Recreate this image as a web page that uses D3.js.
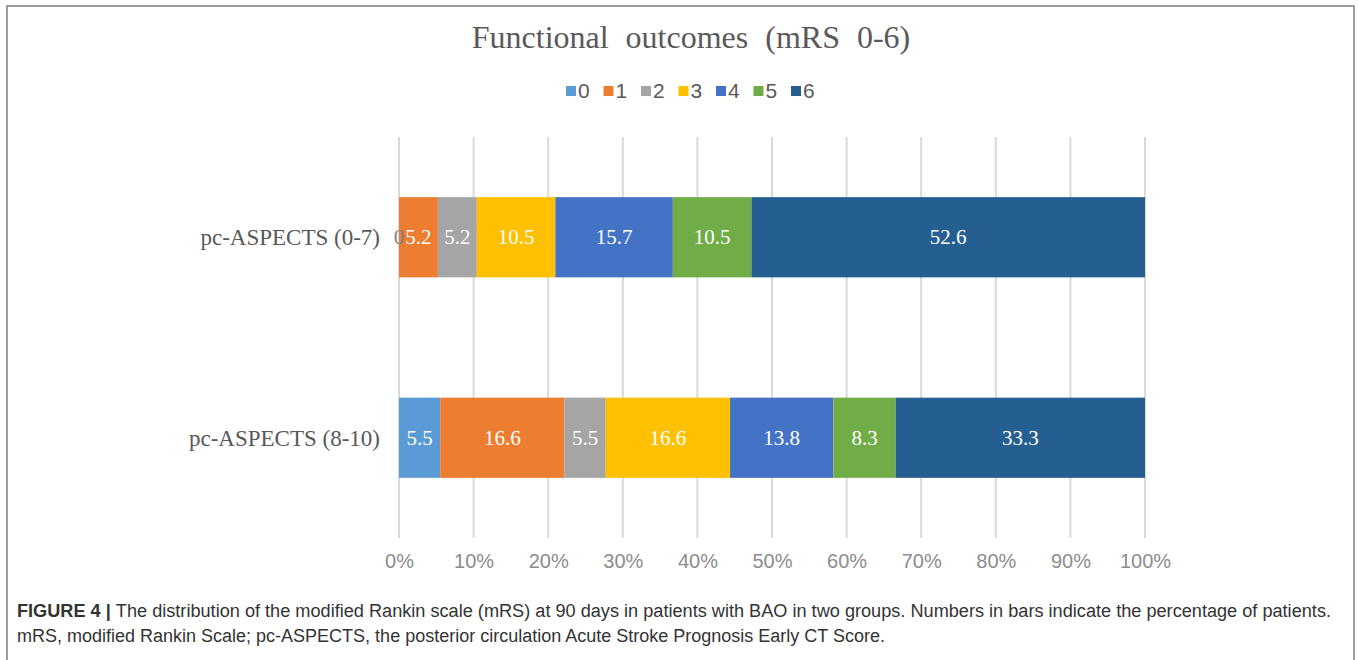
<!DOCTYPE html>
<html>
<head>
<meta charset="utf-8">
<script src="https://cdn.jsdelivr.net/npm/d3@7"></script>
<style>
  html, body { margin: 0; padding: 0; background: #fff; }
  svg { display: block; }
</style>
</head>
<body>
<svg id="chart" width="1358" height="660"></svg>
<script>
// mRS score levels (stack order, left to right)
const levels = ["0", "1", "2", "3", "4", "5", "6"];
// Patient groups, top to bottom
const groups = ["pc-ASPECTS (0-7)", "pc-ASPECTS (8-10)"];
// Percentage of patients per mRS level, one array per group
const valuesLow = [0, 5.2, 5.2, 10.5, 15.7, 10.5, 52.6];
const valuesHigh = [5.5, 16.6, 5.5, 16.6, 13.8, 8.3, 33.3];
// Percent axis ticks
const ticks = [0, 10, 20, 30, 40, 50, 60, 70, 80, 90, 100];
const colors = ["#5b9bd5", "#ed7d31", "#a5a5a5", "#ffc000", "#4472c4", "#70ad47", "#255e91"];

const svg = d3.select("#chart");

// outer frame
svg.append("rect").attr("x", 7).attr("y", 6).attr("width", 1347).attr("height", 660)
  .attr("fill", "none").attr("stroke", "#7f7f7f").attr("stroke-width", 1.5);

const plot = { left: 399, right: 1145, top: 137, bottom: 538 };

const x = d3.scaleLinear().domain([0, 100]).range([plot.left, plot.right]);
const y = d3.scaleBand().domain(groups).range([plot.top, plot.bottom]).paddingInner(0.6).paddingOuter(0.3);

// build rows for 100% stacked layout
const rows = groups.map((g, i) => {
  const vals = i === 0 ? valuesLow : valuesHigh;
  const row = { group: g };
  const total = d3.sum(vals);
  levels.forEach((l, j) => { row[l] = vals[j] / total * 100; row["raw" + l] = vals[j]; });
  return row;
});
const stack = d3.stack().keys(levels)(rows);

// title
svg.append("text").attr("x", 691).attr("y", 48).attr("text-anchor", "middle")
  .attr("font-family", "'Liberation Serif', 'Times New Roman', serif").attr("font-size", 32)
  .attr("word-spacing", 9).attr("fill", "#595959")
  .text("Functional outcomes (mRS 0-6)");

// legend
const legend = svg.append("g");
let lx = 566;
levels.forEach((l, i) => {
  const g = legend.append("g").attr("transform", `translate(${lx},0)`);
  g.append("rect").attr("x", 0).attr("y", 86).attr("width", 10).attr("height", 10).attr("fill", colors[i]);
  g.append("text").attr("x", 12).attr("y", 98)
    .attr("font-family", "'Liberation Sans Narrow', 'Liberation Sans', Arial, sans-serif").attr("font-size", 21)
    .attr("fill", "#595959").text(l);
  lx += 37.5;
});

// vertical gridlines
svg.append("g").selectAll("line").data(ticks).join("line")
  .attr("x1", d => x(d)).attr("x2", d => x(d))
  .attr("y1", plot.top).attr("y2", plot.bottom)
  .attr("stroke", "#d9d9d9").attr("stroke-width", 2);

// bars
const layers = svg.append("g").selectAll("g").data(stack).join("g")
  .attr("fill", (d, i) => colors[i]);
layers.selectAll("rect").data(d => d.map(s => ({ s, key: d.key }))).join("rect")
  .attr("x", d => x(d.s[0]))
  .attr("width", d => x(d.s[1]) - x(d.s[0]))
  .attr("y", d => y(d.s.data.group))
  .attr("height", y.bandwidth());

// value labels inside bars
const labels = [];
stack.forEach(layer => {
  layer.forEach(s => {
    labels.push({ cx: (x(s[0]) + x(s[1])) / 2, cy: y(s.data.group) + y.bandwidth() / 2, v: s.data["raw" + layer.key] });
  });
});
svg.append("g").selectAll("text").data(labels).join("text")
  .attr("x", d => d.cx).attr("y", d => d.cy + 7)
  .attr("text-anchor", "middle")
  .attr("font-family", "'Liberation Serif', 'Times New Roman', serif").attr("font-size", 21)
  .attr("fill", "#ffffff")
  .text(d => d.v === 0 ? "0" : d3.format(".1f")(d.v))
  .filter(d => d.v === 0).attr("fill", "#7f7f7f");

// category axis labels
const yAxis = d3.axisLeft(y).tickSize(0).tickPadding(19);
const ya = svg.append("g").attr("transform", `translate(${plot.left},0)`).call(yAxis);
ya.select(".domain").remove();
ya.selectAll("text").attr("font-family", "'Liberation Serif', 'Times New Roman', serif")
  .attr("font-size", 23).attr("fill", "#595959").attr("dy", "0.35em");

// percent axis
const xAxis = d3.axisBottom(x).tickValues(ticks).tickSize(0).tickPadding(16).tickFormat(d => d + "%");
const xa = svg.append("g").attr("transform", `translate(0,${plot.bottom})`).call(xAxis);
xa.select(".domain").remove();
xa.selectAll("text").attr("font-family", "'Liberation Sans Narrow', 'Liberation Sans', Arial, sans-serif")
  .attr("font-size", 20).attr("fill", "#8c8c8c");

// caption
const cap = svg.append("g").attr("font-family", "'Liberation Sans Narrow', 'Liberation Sans', Arial, sans-serif")
  .attr("font-size", 18).attr("fill", "#333333");
const l1 = cap.append("text").attr("x", 17).attr("y", 617)
  .attr("textLength", 1314).attr("lengthAdjust", "spacingAndGlyphs");
l1.append("tspan").attr("font-weight", "bold").text("FIGURE 4 | ");
l1.append("tspan").text("The distribution of the modified Rankin scale (mRS) at 90 days in patients with BAO in two groups. Numbers in bars indicate the percentage of patients.");
cap.append("text").attr("x", 17).attr("y", 642)
  .attr("textLength", 868).attr("lengthAdjust", "spacingAndGlyphs")
  .text("mRS, modified Rankin Scale; pc-ASPECTS, the posterior circulation Acute Stroke Prognosis Early CT Score.");
</script>
</body>
</html>
